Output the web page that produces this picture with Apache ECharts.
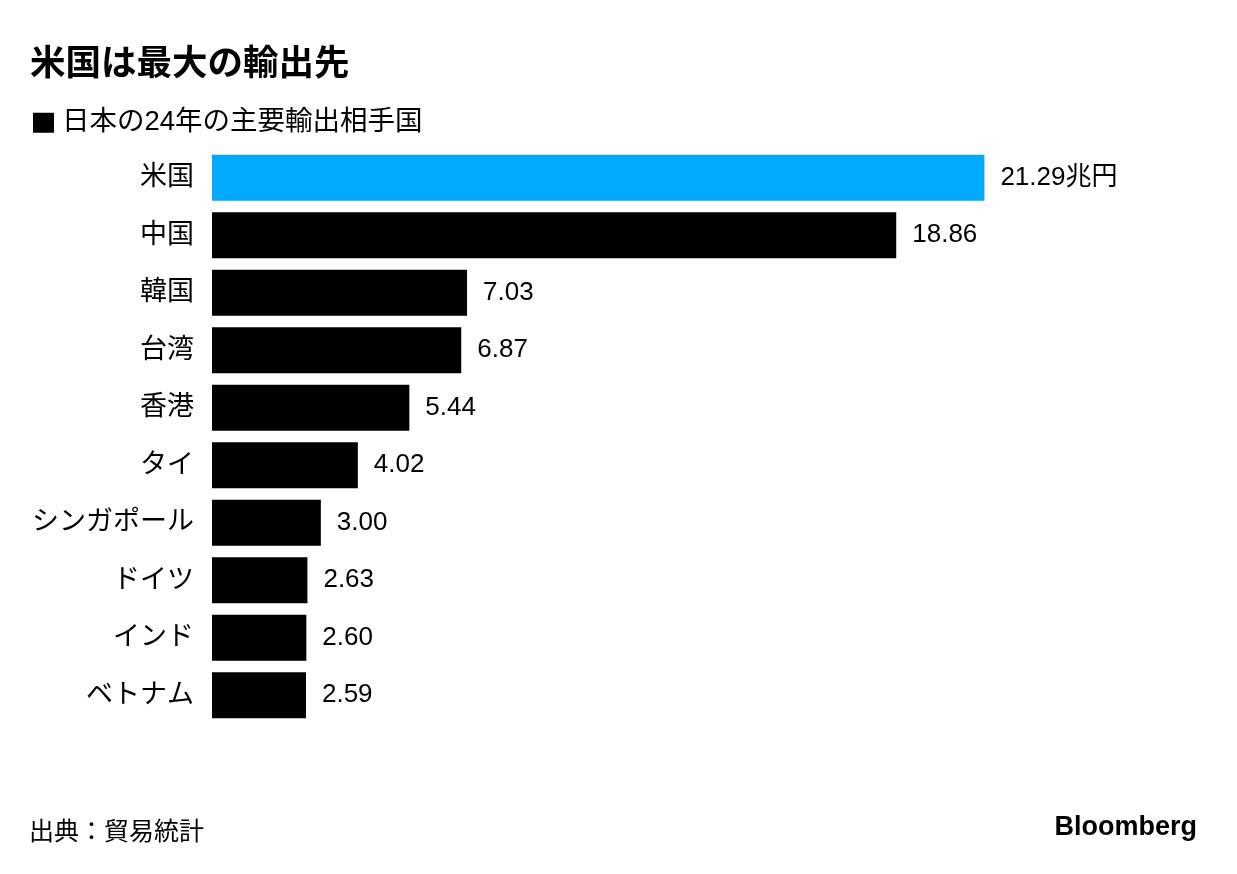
<!DOCTYPE html>
<html>
<head>
<meta charset="utf-8">
<script src="https://cdn.jsdelivr.net/npm/echarts@6/dist/echarts.min.js"></script>
<style>
html,body{margin:0;padding:0;background:#fff;}
#main{width:1237px;height:874px;}
</style>
</head>
<body>
<div id="main"></div>
<script>
const categories = ['米国','中国','韓国','台湾','香港','タイ','シンガポール','ドイツ','インド','ベトナム'];
const values = [21.29, 18.86, 7.03, 6.87, 5.44, 4.02, 3.00, 2.63, 2.60, 2.59];
const seriesName = '日本の24年の主要輸出相手国';
const titleText = '米国は最大の輸出先';
const sourceText = '出典：貿易統計';
const unitSuffix = '兆円';

const FONT = "'Liberation Sans', 'Noto Sans CJK JP', sans-serif";
const chart = echarts.init(document.getElementById('main'));
chart.setOption({
  backgroundColor: '#ffffff',
  animation: false,
  title: {
    text: titleText,
    left: 25,
    top: 42,
    textStyle: {fontFamily: FONT, fontSize: 35.5, fontWeight: 'bold', color: '#000'}
  },
  legend: {
    left: 28,
    top: 104,
    icon: 'rect',
    itemWidth: 21,
    itemHeight: 20,
    itemGap: 10,
    textStyle: {fontFamily: FONT, fontSize: 27.5, color: '#000', padding: [0, 0, 0, 3]},
    data: [seriesName]
  },
  grid: {left: 212, right: 118, top: 149, bottom: 150, containLabel: false},
  xAxis: {
    type: 'value', min: 0, max: 25,
    show: false
  },
  yAxis: {
    type: 'category',
    data: categories,
    inverse: true,
    axisLine: {show: false},
    axisTick: {show: false},
    axisLabel: {fontFamily: FONT, fontSize: 27, color: '#000', margin: 18, padding: [5, 0, 0, 0]}
  },
  series: [{
    name: seriesName,
    type: 'bar',
    barCategoryGap: '20%',
    itemStyle: {color: '#000000'},
    data: values.map((v, i) => i === 0 ? {value: v, itemStyle: {color: '#00AAFF'}} : v),
    label: {
      show: true,
      position: 'right',
      distance: 16,
      fontFamily: FONT,
      fontSize: 26,
      color: '#000',
      padding: [5, 0, 0, 0],
      formatter: p => p.value.toFixed(2) + (p.dataIndex === 0 ? unitSuffix : '')
    }
  }],
  graphic: [
    {type: 'text', left: 29, top: 818, style: {text: sourceText, font: "25px 'Noto Sans CJK JP', sans-serif", fill: '#000'}},
    {type: 'text', right: 40, top: 814, style: {text: 'Bloomberg', font: "bold 27px 'Liberation Sans', sans-serif", fill: '#000'}}
  ]
});
</script>
</body>
</html>
